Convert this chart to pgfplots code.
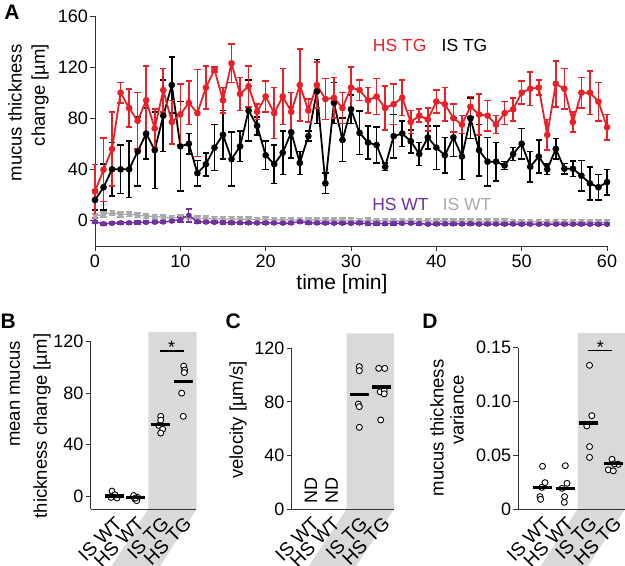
\documentclass[border=0pt]{standalone}
\usepackage{pgfplots}
\pgfplotsset{compat=1.18}
\usepackage{fontspec}
\setmainfont{Liberation Sans}
\definecolor{hsred}{RGB}{235,32,38}
\definecolor{hspurple}{RGB}{112,48,160}
\definecolor{isgray}{RGB}{170,170,170}
\definecolor{bggray}{RGB}{217,217,217}
\definecolor{axgray}{RGB}{50,50,50}
\pgfplotsset{
  panel/.style={
    scale only axis, axis lines=left, axis line style={-, axgray, line width=0.8bp},
    tick align=outside, major tick length=5bp, tick style={axgray, line width=0.8bp},
    /pgf/number format/assume math mode=true,
    clip=false,
    every tick label/.append style={font=\fontsize{18bp}{20bp}\selectfont},
    yticklabel style={inner sep=2bp},
    xticklabel style={inner sep=4bp},
  },
  small/.style={panel, xmin=0, major x tick style={draw=none}, major tick length=5bp,
    xticklabels={IS WT,HS WT,IS TG,HS TG},
    xticklabel style={rotate=45, anchor=north east, inner sep=1bp, font=\fontsize{19bp}{21bp}\selectfont}},
  pts/.style={only marks, mark=*, mark size=3bp, mark options={fill=white, draw=black, line width=0.9bp}},
  means/.style={only marks, mark=-, mark size=9.5bp, mark options={line width=3.3bp, draw=black}},
  tser/.style={mark=*, line width=1.8bp, mark size=2.4bp,
    error bars/y dir=both, error bars/y explicit,
    error bars/error bar style={line width=1.6bp},
    error bars/error mark options={rotate=90, mark size=3.2bp, line width=1.6bp}},
}
\begin{document}
\begin{tikzpicture}[x=1bp,y=1bp]
\useasboundingbox (0,0) rectangle (625,566);
\fill[bggray] (148.3,234) -- (196.7,234) -- (196.7,57) -- (160.1,0) -- (111.7,0) -- (148.3,57) -- cycle;
\fill[bggray] (346.7,232.7) -- (394,232.7) -- (394,57) -- (356,0) -- (308.7,0) -- (346.7,57) -- cycle;
\fill[bggray] (577.7,233) -- (625,233) -- (625,57) -- (588,0) -- (540.7,0) -- (577.7,57) -- cycle;

% ---------------- Panel A
\begin{axis}[panel, at={(95bp,320bp)}, anchor=south west, width=512bp, height=230bp,
  xmin=0, xmax=60, ymin=-20, ymax=160, xtick={0,10,...,60}, ytick={0,40,...,160}]
\addplot[tser, color=isgray, mark=square*, mark size=1.8bp, line width=1.3bp, error bars/error bar style={line width=1.1bp}] table[x=t,y=y,y error=e] {
t y e
0 3.4 1.8
1 4.7 1.8
2 6 1.8
3 4.7 1.8
4 5 1.8
5 4 1.8
6 3.4 1.8
7 3 1.8
8 2.6 1.8
9 2 1.8
10 2.6 1.8
11 3 1.8
12 1.5 1.8
13 1.5 1.8
14 1.2 1.8
15 1 1.8
16 1.2 1.8
17 1 1.8
18 1 1.8
19 0.6 1.8
20 0.8 1.8
21 0.5 1.8
22 0.6 1.8
23 0.3 1.8
24 0.5 1.8
25 0.2 1.8
26 0.3 1.8
27 0 1.8
28 0.2 1.8
29 0 1.8
30 0 1.8
31 -0.2 1.8
32 0 1.8
33 -0.3 1.8
34 -0.2 1.8
35 -0.3 1.8
36 -0.4 1.8
37 -0.3 1.8
38 -0.5 1.8
39 -0.4 1.8
40 -0.6 1.8
41 -0.5 1.8
42 -0.7 1.8
43 -0.6 1.8
44 -0.8 1.8
45 -0.7 1.8
46 -0.8 1.8
47 -0.9 1.8
48 -0.8 1.8
49 -1 1.8
50 -1 1.8
51 -1.1 1.8
52 -1 1.8
53 -1.2 1.8
54 -1.1 1.8
55 -1.2 1.8
56 -1.3 1.8
57 -1.2 1.8
58 -1.3 1.8
59 -1.4 1.8
60 -1.5 1.8
};
\addplot[tser, color=hspurple, mark size=2bp, line width=1.5bp, error bars/error bar style={line width=1.1bp}] table[x=t,y=y,y error=e] {
t y e
0 -1 1
1 -2.6 1
2 -2.2 1
3 -1.8 1
4 -1.8 1
5 -1.6 1
6 -1.5 1
7 -1.4 1
8 -1.2 1
9 -0.5 1
10 0.8 2
11 4 5
12 -1 1
13 -1.3 1
14 -1.5 1
15 -1.6 1
16 -1.8 1
17 -1.8 1
18 -1.9 1
19 -2 1
20 -2 1
21 -2 1
22 -2.1 1
23 -2 1
24 -1 1
25 -1.8 1
26 -2 1
27 -2.1 1
28 -2.2 1
29 -2.2 1
30 -2.3 1
31 -2 1
32 -2.4 1
33 -2.4 1
34 -2.5 1
35 -2.4 1
36 -2.3 1
37 -2.2 1
38 -2.5 1
39 -3 1
40 -2.8 1
41 -2.7 1
42 -2.7 1
43 -2.8 1
44 -2.6 1
45 -2.9 1
46 -2.8 1
47 -2.8 1
48 -2.9 1
49 -2.8 1
50 -3 1
51 -2.9 1
52 -3 1
53 -3 1
54 -2.9 1
55 -3 1
56 -3 1
57 -2.9 1
58 -3 1
59 -3 1
60 -3 1
};
\addplot[tser, color=black] table[x=t,y=y,y error=e] {
t y e
0 16 8
1 26 18
2 40 21
3 40 19
4 40 22
5 54 27
6 68 20
7 55 30
8 82 28
9 106 22
10 58 35
11 60 8
12 37 10
13 44 9
14 57 18
15 67 19
16 48 21
17 58 12
18 86 24
19 74 7
20 51 11
21 44 15
22 53 17
23 69 20
24 45 9
25 66 4
26 101 25
27 29 8
28 92 16
29 63 17
30 87 11
31 68.5 17
32 61 13
33 59 14
34 42 3
35 66 17
36 68 10
37 62 9
38 52 9
39 65 9
40 57 17
41 51 14
42 65 15
43 50 18
44 80 16
45 55 20
46 46 19
47 46 15
48 43 3
49 52 5
50 60 12
51 42 12
52 50 13
53 40 4
54 56 8
55 40.5 4
56 40.5 6
57 35 12
58 29 13
59 26 10
60 30 10
};
\addplot[tser, color=hsred] table[x=t,y=y,y error=e] {
t y e
0 22.7 21
1 39.7 25
2 56 29
3 100 8
4 88 15
5 78 22
6 94 27
7 72 15
8 102 17
9 77 17
10 83 24
11 92 17
12 84 34
13 104 17
14 118 2
15 94 10
16 123 15
17 99 13
18 105 16
19 85 6
20 97 12
21 84 20
22 97 22
23 85 15
24 106 28
25 86 9
26 106 18
27 95 16
28 96 16
29 88 12
30 104 16
31 102 8
32 94 10
33 97 14
34 88 17
35 91 16
36 96 14
37 77 9
38 82 5
39 79 9
40 93 9
41 91 13
42 80 11
43 75 7
44 89 8
45 83 16
46 82 12
47 75 7
48 84 9
49 87 9
50 100 9
51 103 13
52 104 6
53 67 12
54 107 18
55 103 16
56 77 8
57 100 12
58 100 17
59 93 15
60 73 10
};
\node[hsred, font=\fontsize{17.5bp}{20bp}\selectfont] at (axis cs:35.7,137) {HS TG};
\node[black, font=\fontsize{17.5bp}{20bp}\selectfont] at (axis cs:43.3,137) {IS TG};
\node[hspurple, font=\fontsize{17.5bp}{20bp}\selectfont] at (axis cs:35.8,12.5) {HS WT};
\node[isgray, font=\fontsize{17.5bp}{20bp}\selectfont] at (axis cs:43.6,12.5) {IS WT};
\end{axis}

% ---------------- Panel B
\begin{axis}[small, at={(90.7bp,57bp)}, anchor=south west, width=105.3bp, height=167.3bp,
  xmax=105.3, ymin=-10, ymax=120, ytick={0,40,80,120}, xtick={23.3,45,70,92.6}]
\addplot[pts] coordinates {(21.3,3.9) (23.3,0.5) (20.3,-1) (26.3,-1.5) (24.3,1)
 (43,0.5) (47,-1) (44,-2) (46,-3.5) (45,-1.5)
 (70,62) (70,59) (68,55) (72,52) (70,49)
 (93,101) (94,98) (93.6,96) (91,80) (92.6,62)};
\addplot[means] coordinates {(23.3,0) (45,-1) (70,55.8) (92.6,88.8)};
\addplot[black, line width=1.5bp] coordinates {(69.3,112.7) (93.6,112.7)};
\node[font=\fontsize{18bp}{20bp}\selectfont, yshift=3.5bp] at (axis cs:81,112.7) {*};
\end{axis}

% ---------------- Panel C
\begin{axis}[small, at={(291.7bp,57bp)}, anchor=south west, width=102.3bp, height=160.7bp,
  xmax=102.3, ymin=0, ymax=120, ytick={0,40,80,120}, xtick={19.3,40,67.6,90}]
\addplot[pts] coordinates {(67.6,106.3) (67.6,103.3) (66.6,78.4) (67.6,76.4) (67.6,61)
 (87,105) (93,105) (88.5,87.5) (92.5,88.4) (92.5,86) (89,66.5)};
\addplot[means] coordinates {(67.6,85.4) (90,91)};
\node[rotate=90, anchor=west, inner sep=5bp, font=\fontsize{18bp}{20bp}\selectfont] at (axis cs:19.3,0) {ND};
\node[rotate=90, anchor=west, inner sep=5bp, font=\fontsize{18bp}{20bp}\selectfont] at (axis cs:40,0) {ND};
\end{axis}

% ---------------- Panel D
\begin{axis}[small, at={(518.3bp,57bp)}, anchor=south west, width=106.7bp, height=161.3bp,
  xmax=106.7, ymin=0, ymax=0.15, ytick={0,0.05,0.10,0.15}, yticklabels={0,0.05,0.10,0.15},
  xtick={24.2,47,70.4,95}]
\addplot[pts] coordinates {(24.2,0.0397) (26.7,0.0245) (23.5,0.0201) (21.7,0.0115) (22.3,0.009)
 (47,0.0403) (48.7,0.0239) (43.7,0.0192) (46.3,0.0115) (46,0.0062)
 (71.2,0.1336) (73.5,0.0868) (68.5,0.0772) (71.2,0.058) (71.2,0.048)
 (93.7,0.0462) (90,0.0365) (95,0.0355) (100,0.0415) (96,0.042)};
\addplot[means] coordinates {(24.2,0.020) (47,0.019) (70.4,0.080) (95,0.0425)};
\addplot[black, line width=1.5bp] coordinates {(69.4,0.1472) (93.4,0.1472)};
\node[font=\fontsize{18bp}{20bp}\selectfont, yshift=3.5bp] at (axis cs:82,0.1472) {*};
\end{axis}

% ---------------- labels
\begin{scope}[font=\fontsize{18.5bp}{21bp}\selectfont]
\node[rotate=90] at (15,453) {mucus thickness};
\node[rotate=90] at (40,471) {change [µm]};
\node at (342,282) {\fontsize{21bp}{24bp}\selectfont time [min]};
\node[rotate=90] at (15,172) {mean mucus};
\node[rotate=90] at (42,140) {thickness change [µm]};
\node[rotate=90] at (238,146) {velocity [µm/s]};
\node[rotate=90] at (437,138) {mucus thickness};
\node[rotate=90] at (457,156) {variance};
\end{scope}
\begin{scope}[font=\fontsize{21bp}{24bp}\selectfont\bfseries]
\node at (12,554) {A};
\node at (8.3,244.3) {B};
\node at (233.3,244.3) {C};
\node at (430,244.3) {D};
\end{scope}
\end{tikzpicture}
\end{document}
